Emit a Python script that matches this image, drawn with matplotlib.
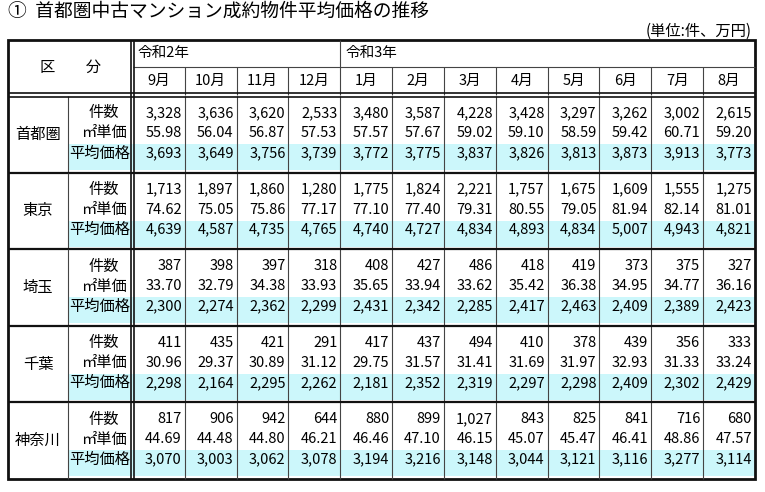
import matplotlib
matplotlib.use('Agg')
import matplotlib.pyplot as plt
from matplotlib.patches import Rectangle

plt.rcParams['font.family'] = ['Noto Sans CJK JP', 'DejaVu Sans']

MONTHS = ['9月', '10月', '11月', '12月', '1月', '2月', '3月', '4月', '5月', '6月', '7月', '8月']
REGIONS = ['首都圏', '東京', '埼玉', '千葉', '神奈川']
ROW_LABELS = ['件数', '㎡単価', '平均価格']

COUNTS = [
    [3328, 3636, 3620, 2533, 3480, 3587, 4228, 3428, 3297, 3262, 3002, 2615],
    [1713, 1897, 1860, 1280, 1775, 1824, 2221, 1757, 1675, 1609, 1555, 1275],
    [387, 398, 397, 318, 408, 427, 486, 418, 419, 373, 375, 327],
    [411, 435, 421, 291, 417, 437, 494, 410, 378, 439, 356, 333],
    [817, 906, 942, 644, 880, 899, 1027, 843, 825, 841, 716, 680],
]
UNIT_PRICE = [
    [55.98, 56.04, 56.87, 57.53, 57.57, 57.67, 59.02, 59.10, 58.59, 59.42, 60.71, 59.20],
    [74.62, 75.05, 75.86, 77.17, 77.10, 77.40, 79.31, 80.55, 79.05, 81.94, 82.14, 81.01],
    [33.70, 32.79, 34.38, 33.93, 35.65, 33.94, 33.62, 35.42, 36.38, 34.95, 34.77, 36.16],
    [30.96, 29.37, 30.89, 31.12, 29.75, 31.57, 31.41, 31.69, 31.97, 32.93, 31.33, 33.24],
    [44.69, 44.48, 44.80, 46.21, 46.46, 47.10, 46.15, 45.07, 45.47, 46.41, 48.86, 47.57],
]
AVG_PRICE = [
    [3693, 3649, 3756, 3739, 3772, 3775, 3837, 3826, 3813, 3873, 3913, 3773],
    [4639, 4587, 4735, 4765, 4740, 4727, 4834, 4893, 4834, 5007, 4943, 4821],
    [2300, 2274, 2362, 2299, 2431, 2342, 2285, 2417, 2463, 2409, 2389, 2423],
    [2298, 2164, 2295, 2262, 2181, 2352, 2319, 2297, 2298, 2409, 2302, 2429],
    [3070, 3003, 3062, 3078, 3194, 3216, 3148, 3044, 3121, 3116, 3277, 3114],
]

# layout in pixels (y downward)
X0, X1, X2, XR = 8, 68, 133, 755
CW = (XR - X2) / 12
Y0, YH1, YH2, YB = 40, 67, 95, 96
BH = 76.6
FS = 10.5

fig = plt.figure(figsize=(7.65, 4.92), dpi=100)
ax = fig.add_axes([0, 0, 1, 1])
ax.set_xlim(0, 765)
ax.set_ylim(492, 0)
ax.set_axis_off()

def hline(y, xa, xb, lw=0.8, c='#444'):
    ax.plot([xa, xb], [y, y], color=c, lw=lw, solid_capstyle='butt')

def vline(x, ya, yb, lw=0.8, c='#444'):
    ax.plot([x, x], [ya, yb], color=c, lw=lw, solid_capstyle='butt')

ax.text(8, 11, '①  首都圏中古マンション成約物件平均価格の推移', fontsize=13.5, va='center')
ax.text(752, 31, '(単位:件、万円)', fontsize=11, va='center', ha='right')

ybot = YB + BH * len(REGIONS)

# highlight bands
for r in range(len(REGIONS)):
    top = YB + r * BH
    ax.add_patch(Rectangle((X1, top + 48), XR - X1, 26, color='#ccf7fb', lw=0, zorder=0))

# header
ax.text((X0 + X2) / 2, (Y0 + YH2) / 2, '区　　分', fontsize=11, ha='center', va='center')
ax.text(X2 + 5, (Y0 + YH1) / 2, '令和2年', fontsize=FS, va='center')
ax.text(X2 + 4 * CW + 5, (Y0 + YH1) / 2, '令和3年', fontsize=FS, va='center')
for i, m in enumerate(MONTHS):
    ax.text(X2 + (i + 0.5) * CW, (YH1 + YH2) / 2, m, fontsize=FS, ha='center', va='center')
hline(YH1, X2, XR)
vline(X2 + 4 * CW, Y0, YH1)
for i in range(1, 12):
    vline(X2 + i * CW, YH1, YH2)
    vline(X2 + i * CW, YB, ybot)

# body
for r, reg in enumerate(REGIONS):
    top = YB + r * BH
    ax.text((X0 + X1) / 2, top + BH / 2, reg, fontsize=11, ha='center', va='center')
    rows = [[f'{v:,}' for v in COUNTS[r]],
            [f'{v:.2f}' for v in UNIT_PRICE[r]],
            [f'{v:,}' for v in AVG_PRICE[r]]]
    for k, lab in enumerate(ROW_LABELS):
        y = top + 17 + 20 * k
        ax.text(X2 - 3 if k == 2 else (X1 + X2) / 2 + 3, y, lab, fontsize=11,
                ha='right' if k == 2 else 'center', va='center')
        for i, s in enumerate(rows[k]):
            ax.text(X2 + (i + 1) * CW - 3, y, s, fontsize=FS, ha='right', va='center')
    if r > 0:
        hline(top, X0, XR, lw=1.6, c='#111')
    vline(X1, top, top + BH)

# outer and double lines
ax.add_patch(Rectangle((X0, Y0), XR - X0, ybot - Y0, fill=False, lw=2, ec='#111'))
hline(YH2 - 2, X0, XR, lw=1.2, c='#111')
hline(YB + 1, X0, XR, lw=1.2, c='#111')
vline(X2 - 1.5, Y0, ybot, lw=1.2, c='#111')
vline(X2 + 1.5, Y0, ybot, lw=1.2, c='#111')

fig.savefig('out.png', dpi=100, facecolor='white')
